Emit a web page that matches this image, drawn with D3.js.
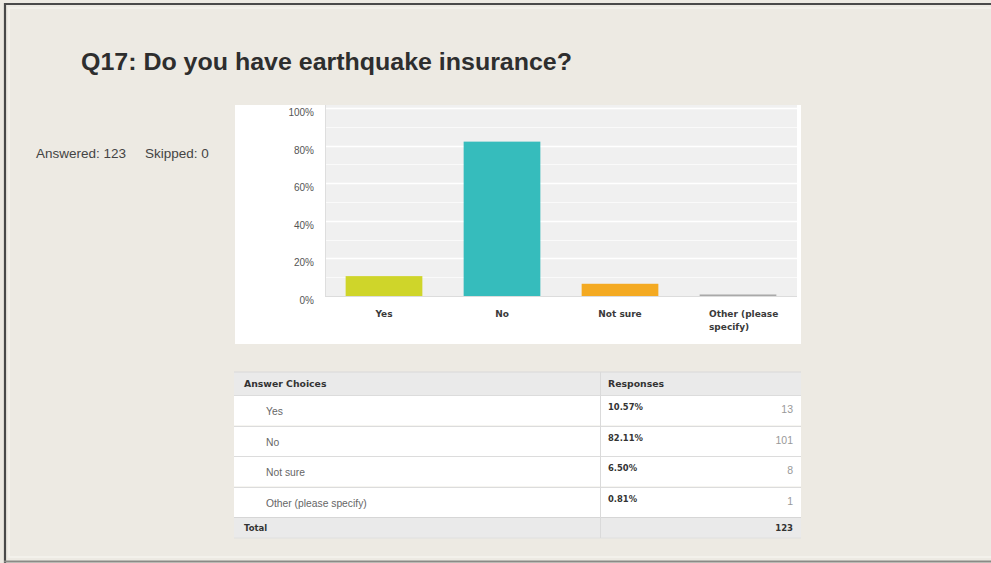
<!DOCTYPE html>
<html>
<head>
<meta charset="utf-8">
<script src="https://cdn.jsdelivr.net/npm/d3@7"></script>
<style>
  html, body { margin: 0; padding: 0; background: #edeae3; }
  svg { display: block; }
</style>
</head>
<body>
<svg id="slide" width="991" height="563"></svg>
<script>
// Survey question and response data
const questionTitle = "Q17: Do you have earthquake insurance?";
const categories = ["Yes", "No", "Not sure", "Other (please specify)"];
const axisLabels = [["Yes"], ["No"], ["Not sure"], ["Other (please", "specify)"]];
const percents = [10.57, 82.11, 6.50, 0.81];
const counts = [13, 101, 8, 1];
const barColors = ["#cfd52a", "#36bcbc", "#f4aa22", "#a9a9a9"];
const yTicks = [0, 20, 40, 60, 80, 100];
const minorTicks = [10, 30, 50, 70, 90];
const answered = 123;
const skipped = 0;
const total = 123;

const svg = d3.select("#slide");

// Slide frame
svg.append("rect").attr("x", 0).attr("y", 0).attr("width", 991).attr("height", 563).attr("fill", "#edeae3");
svg.append("rect").attr("x", 9).attr("y", 8).attr("width", 990).attr("height", 549)
  .attr("fill", "none").attr("stroke", "#f5f3ee").attr("stroke-width", 1.5);
svg.append("line").attr("x1", 4).attr("x2", 991).attr("y1", 4).attr("y2", 4).attr("stroke", "#4a4a4a").attr("stroke-width", 2.2);
svg.append("line").attr("x1", 5).attr("x2", 5).attr("y1", 3).attr("y2", 563).attr("stroke", "#4a4a4a").attr("stroke-width", 2.2);
svg.append("line").attr("x1", 4).attr("x2", 991).attr("y1", 561.5).attr("y2", 561.5).attr("stroke", "#8a8a86").attr("stroke-width", 2);

// Title
svg.append("text").attr("x", 81).attr("y", 70)
  .attr("font-family", "Liberation Sans, Arial, sans-serif").attr("font-weight", "bold")
  .attr("font-size", 23.5).attr("fill", "#2e2e2e")
  .attr("textLength", 491).attr("lengthAdjust", "spacingAndGlyphs")
  .text(questionTitle);

// Answered / skipped summary
const summary = svg.append("text").attr("y", 158)
  .attr("font-family", "Liberation Sans, Arial, sans-serif").attr("font-size", 13.5).attr("fill", "#444");
summary.append("tspan").attr("x", 36).text(`Answered: ${answered}`);
summary.append("tspan").attr("x", 145).text(`Skipped: ${skipped}`);

// Chart panel
const panel = { x: 235, y: 105, w: 566, h: 239 };
svg.append("rect").attr("x", panel.x).attr("y", panel.y).attr("width", panel.w).attr("height", panel.h).attr("fill", "#ffffff");

const plot = { left: 325, right: 797, top: 105, bottom: 296 };
const x = d3.scaleBand().domain(categories).range([plot.left, plot.right]).paddingInner(0.35).paddingOuter(0.175);
const y = d3.scaleLinear().domain([0, 100]).range([plot.bottom, 108]);

svg.append("rect").attr("x", plot.left).attr("y", plot.top)
  .attr("width", plot.right - plot.left).attr("height", plot.bottom - plot.top).attr("fill", "#f0f0f0");

// Gridlines
const grid = svg.append("g");
grid.selectAll("line.minor").data(minorTicks).join("line")
  .attr("x1", plot.left).attr("x2", plot.right)
  .attr("y1", d => Math.round(y(d)) + 0.5).attr("y2", d => Math.round(y(d)) + 0.5)
  .attr("stroke", "#fafafa").attr("stroke-width", 1);
grid.selectAll("line.major").data(yTicks.filter(d => d > 0)).join("line")
  .attr("x1", plot.left).attr("x2", plot.right)
  .attr("y1", d => Math.round(y(d)) + 0.5).attr("y2", d => Math.round(y(d)) + 0.5)
  .attr("stroke", "#ffffff").attr("stroke-width", 1.5);
svg.append("line").attr("x1", plot.left + 0.5).attr("x2", plot.left + 0.5).attr("y1", plot.top).attr("y2", plot.bottom)
  .attr("stroke", "#dedede");

// Y axis
const yAxis = svg.append("g").attr("transform", `translate(${plot.left - 8},0)`)
  .call(d3.axisLeft(y).tickValues(yTicks).tickSize(0).tickFormat(d => d + "%"));
yAxis.select(".domain").remove();
yAxis.selectAll("text").attr("font-family", "Liberation Sans, Arial, sans-serif")
  .attr("font-size", 10).attr("fill", "#555").attr("dy", "0.75em");

// Bars
svg.append("g").selectAll("rect").data(categories).join("rect")
  .attr("x", d => x(d)).attr("width", x.bandwidth())
  .attr("y", (d, i) => y(percents[i]))
  .attr("height", (d, i) => Math.max(1.5, y(0) - y(percents[i])))
  .attr("fill", (d, i) => barColors[i]);

// Baseline
svg.append("line").attr("x1", plot.left).attr("x2", plot.right).attr("y1", plot.bottom + 0.5).attr("y2", plot.bottom + 0.5)
  .attr("stroke", "#dcdcdc");

// Category labels
const catG = svg.append("g");
categories.forEach((c, i) => {
  const lines = axisLabels[i];
  const t = catG.append("text")
    .attr("font-family", "DejaVu Sans, sans-serif").attr("font-weight", "bold")
    .attr("font-size", 9).attr("fill", "#3a3a3a");
  if (lines.length === 1) {
    t.attr("x", x(c) + x.bandwidth() / 2).attr("y", 317).attr("text-anchor", "middle").text(lines[0]);
  } else {
    lines.forEach((ln, k) => {
      t.append("tspan").attr("x", x(c) + x.bandwidth() / 2 - 29).attr("y", 317 + k * 13).text(ln);
    });
  }
});

// Response table
const table = { left: 234, right: 801, split: 600 };
const rowTops = [395, 426, 456, 487];
const rowH = 30.5;
const tg = svg.append("g");

tg.append("rect").attr("x", table.left).attr("y", 372).attr("width", table.right - table.left).attr("height", 23).attr("fill", "#eaeaea");
tg.append("line").attr("x1", table.left).attr("x2", table.right).attr("y1", 372).attr("y2", 372).attr("stroke", "#d8d8d8");
tg.selectAll("rect.row").data(categories).join("rect")
  .attr("x", table.left).attr("width", table.right - table.left)
  .attr("y", (d, i) => rowTops[i]).attr("height", rowH).attr("fill", "#ffffff");
tg.selectAll("line.sep").data(categories).join("line")
  .attr("x1", table.left).attr("x2", table.right)
  .attr("y1", (d, i) => rowTops[i] + 0.5).attr("y2", (d, i) => rowTops[i] + 0.5)
  .attr("stroke", "#dcdcdc");
tg.append("rect").attr("x", table.left).attr("y", 517).attr("width", table.right - table.left).attr("height", 21).attr("fill", "#eaeaea");
tg.append("line").attr("x1", table.left).attr("x2", table.right).attr("y1", 517.5).attr("y2", 517.5).attr("stroke", "#d6d6d6");
tg.append("line").attr("x1", table.left).attr("x2", table.right).attr("y1", 538).attr("y2", 538).attr("stroke", "#e0e0e0");
tg.append("line").attr("x1", table.split + 0.5).attr("x2", table.split + 0.5).attr("y1", 372).attr("y2", 538).attr("stroke", "#dadada");

const boldFont = "DejaVu Sans, sans-serif";
const regFont = "Liberation Sans, Arial, sans-serif";

tg.append("text").attr("x", 244).attr("y", 387).attr("font-family", boldFont).attr("font-weight", "bold")
  .attr("font-size", 9.3).attr("fill", "#333").text("Answer Choices");
tg.append("text").attr("x", 608).attr("y", 387).attr("font-family", boldFont).attr("font-weight", "bold")
  .attr("font-size", 9.3).attr("fill", "#333").text("Responses");

tg.selectAll("text.choice").data(categories).join("text")
  .attr("x", 266).attr("y", (d, i) => rowTops[i] + 19.5)
  .attr("font-family", regFont).attr("font-size", 10.3).attr("fill", "#666").text(d => d);
tg.selectAll("text.pct").data(percents).join("text")
  .attr("x", 608).attr("y", (d, i) => rowTops[i] + 15)
  .attr("font-family", boldFont).attr("font-weight", "bold").attr("font-size", 8.4).attr("fill", "#333")
  .text(d => d.toFixed(2) + "%");
tg.selectAll("text.count").data(counts).join("text")
  .attr("x", 793).attr("y", (d, i) => rowTops[i] + 18).attr("text-anchor", "end")
  .attr("font-family", regFont).attr("font-size", 10.5).attr("fill", "#999").text(d => d);

tg.append("text").attr("x", 244).attr("y", 531).attr("font-family", boldFont).attr("font-weight", "bold")
  .attr("font-size", 8.5).attr("fill", "#333").text("Total");
tg.append("text").attr("x", 793).attr("y", 531).attr("text-anchor", "end").attr("font-family", boldFont).attr("font-weight", "bold")
  .attr("font-size", 8.5).attr("fill", "#333").text(total);
</script>
</body>
</html>
